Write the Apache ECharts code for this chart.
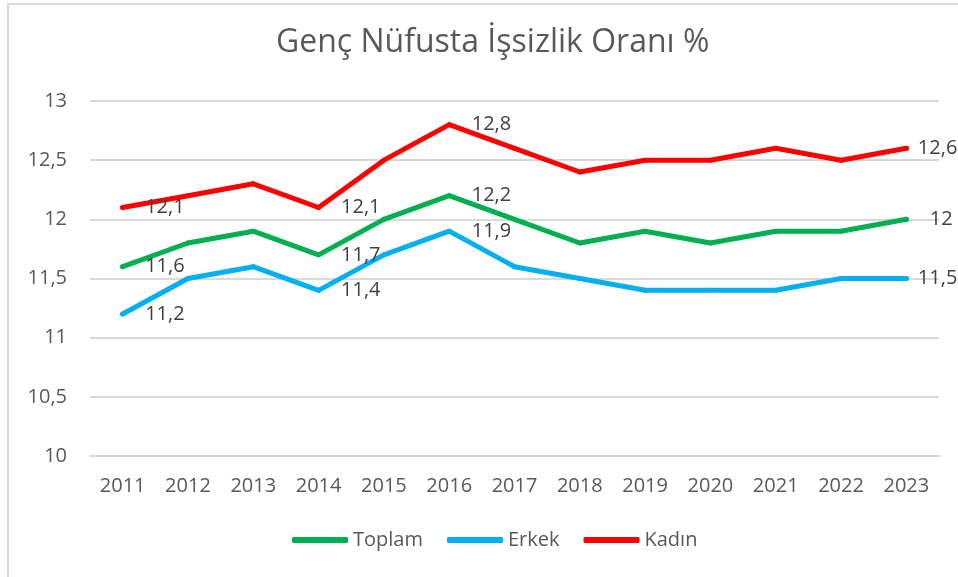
<!DOCTYPE html>
<html>
<head>
<meta charset="utf-8">
<title>Genç Nüfusta İşsizlik Oranı %</title>
<script src="https://cdn.jsdelivr.net/npm/echarts@6/dist/echarts.min.js"></script>
<style>
  body { margin: 0; background: #fff; }
  #chart { width: 958px; height: 577px; }
  .frame {
    position: absolute; left: 7px; top: 3px; right: 0; bottom: 0;
    border-left: 2px solid #d9d9d9; border-top: 2px solid #d9d9d9;
    pointer-events: none;
  }
</style>
</head>
<body>
<div id="chart"></div>
<div class="frame"></div>
<script>
const years = ['2011', '2012', '2013', '2014', '2015', '2016', '2017', '2018', '2019', '2020', '2021', '2022', '2023']
const toplam = [11.6, 11.8, 11.9, 11.7, 12.0, 12.2, 12.0, 11.8, 11.9, 11.8, 11.9, 11.9, 12.0]
const erkek = [11.2, 11.5, 11.6, 11.4, 11.7, 11.9, 11.6, 11.5, 11.4, 11.4, 11.4, 11.5, 11.5]
const kadin = [12.1, 12.2, 12.3, 12.1, 12.5, 12.8, 12.6, 12.4, 12.5, 12.5, 12.6, 12.5, 12.6]
// which points carry a value label
const labelIdx = [0, 3, 5, 12]

const font = 'Open Sans'
const fmt = (v) => String(v).replace('.', ',')

// build data with labels only on selected points
function withLabels(values, lastDistance) {
  return values.map((v, i) => {
    if (labelIdx.indexOf(i) < 0) return v
    return {
      value: v,
      label: {
        show: true,
        position: 'right',
        distance: i === values.length - 1 ? lastDistance : 20,
        formatter: (p) => fmt(p.value),
        color: '#404040',
        fontSize: 20,
        fontFamily: font
      }
    }
  })
}

function makeSeries(name, values, color, lastDistance) {
  return {
    name,
    type: 'line',
    data: withLabels(values, lastDistance),
    symbol: 'circle',
    symbolSize: 5,
    itemStyle: { color },
    lineStyle: { color, width: 5, cap: 'round', join: 'round' },
    emphasis: { disabled: true },
    z: 3
  }
}

const chart = echarts.init(document.getElementById('chart'))
chart.setOption({
  animation: false,
  title: {
    text: 'Genç Nüfusta İşsizlik Oranı %',
    left: 271,
    top: 22,
    textStyle: { color: '#595959', fontSize: 32, fontWeight: 'normal', fontFamily: font }
  },
  legend: {
    data: ['Toplam', 'Erkek', 'Kadın'],
    bottom: 22,
    left: 287,
    icon: 'roundRect',
    itemWidth: 56,
    itemHeight: 6,
    itemGap: 24,
    textStyle: { color: '#595959', fontSize: 20, fontFamily: font }
  },
  grid: { left: 90, right: 19, top: 101, bottom: 121, containLabel: false },
  xAxis: {
    type: 'category',
    data: years,
    boundaryGap: true,
    axisLine: { lineStyle: { color: '#d9d9d9', width: 2 } },
    axisTick: { show: false },
    axisLabel: { color: '#595959', fontSize: 20, fontFamily: font, margin: 20 }
  },
  yAxis: {
    type: 'value',
    min: 10,
    max: 13,
    interval: 0.5,
    axisLine: { show: false },
    axisTick: { show: false },
    splitLine: { lineStyle: { color: '#d9d9d9', width: 2 } },
    axisLabel: { color: '#595959', fontSize: 20, fontFamily: font, margin: 23, formatter: fmt }
  },
  series: [
    makeSeries('Toplam', toplam, '#00b050', 21),
    makeSeries('Erkek', erkek, '#00b0f0', 9),
    makeSeries('Kadın', kadin, '#ff0000', 9)
  ]
})
</script>
</body>
</html>
